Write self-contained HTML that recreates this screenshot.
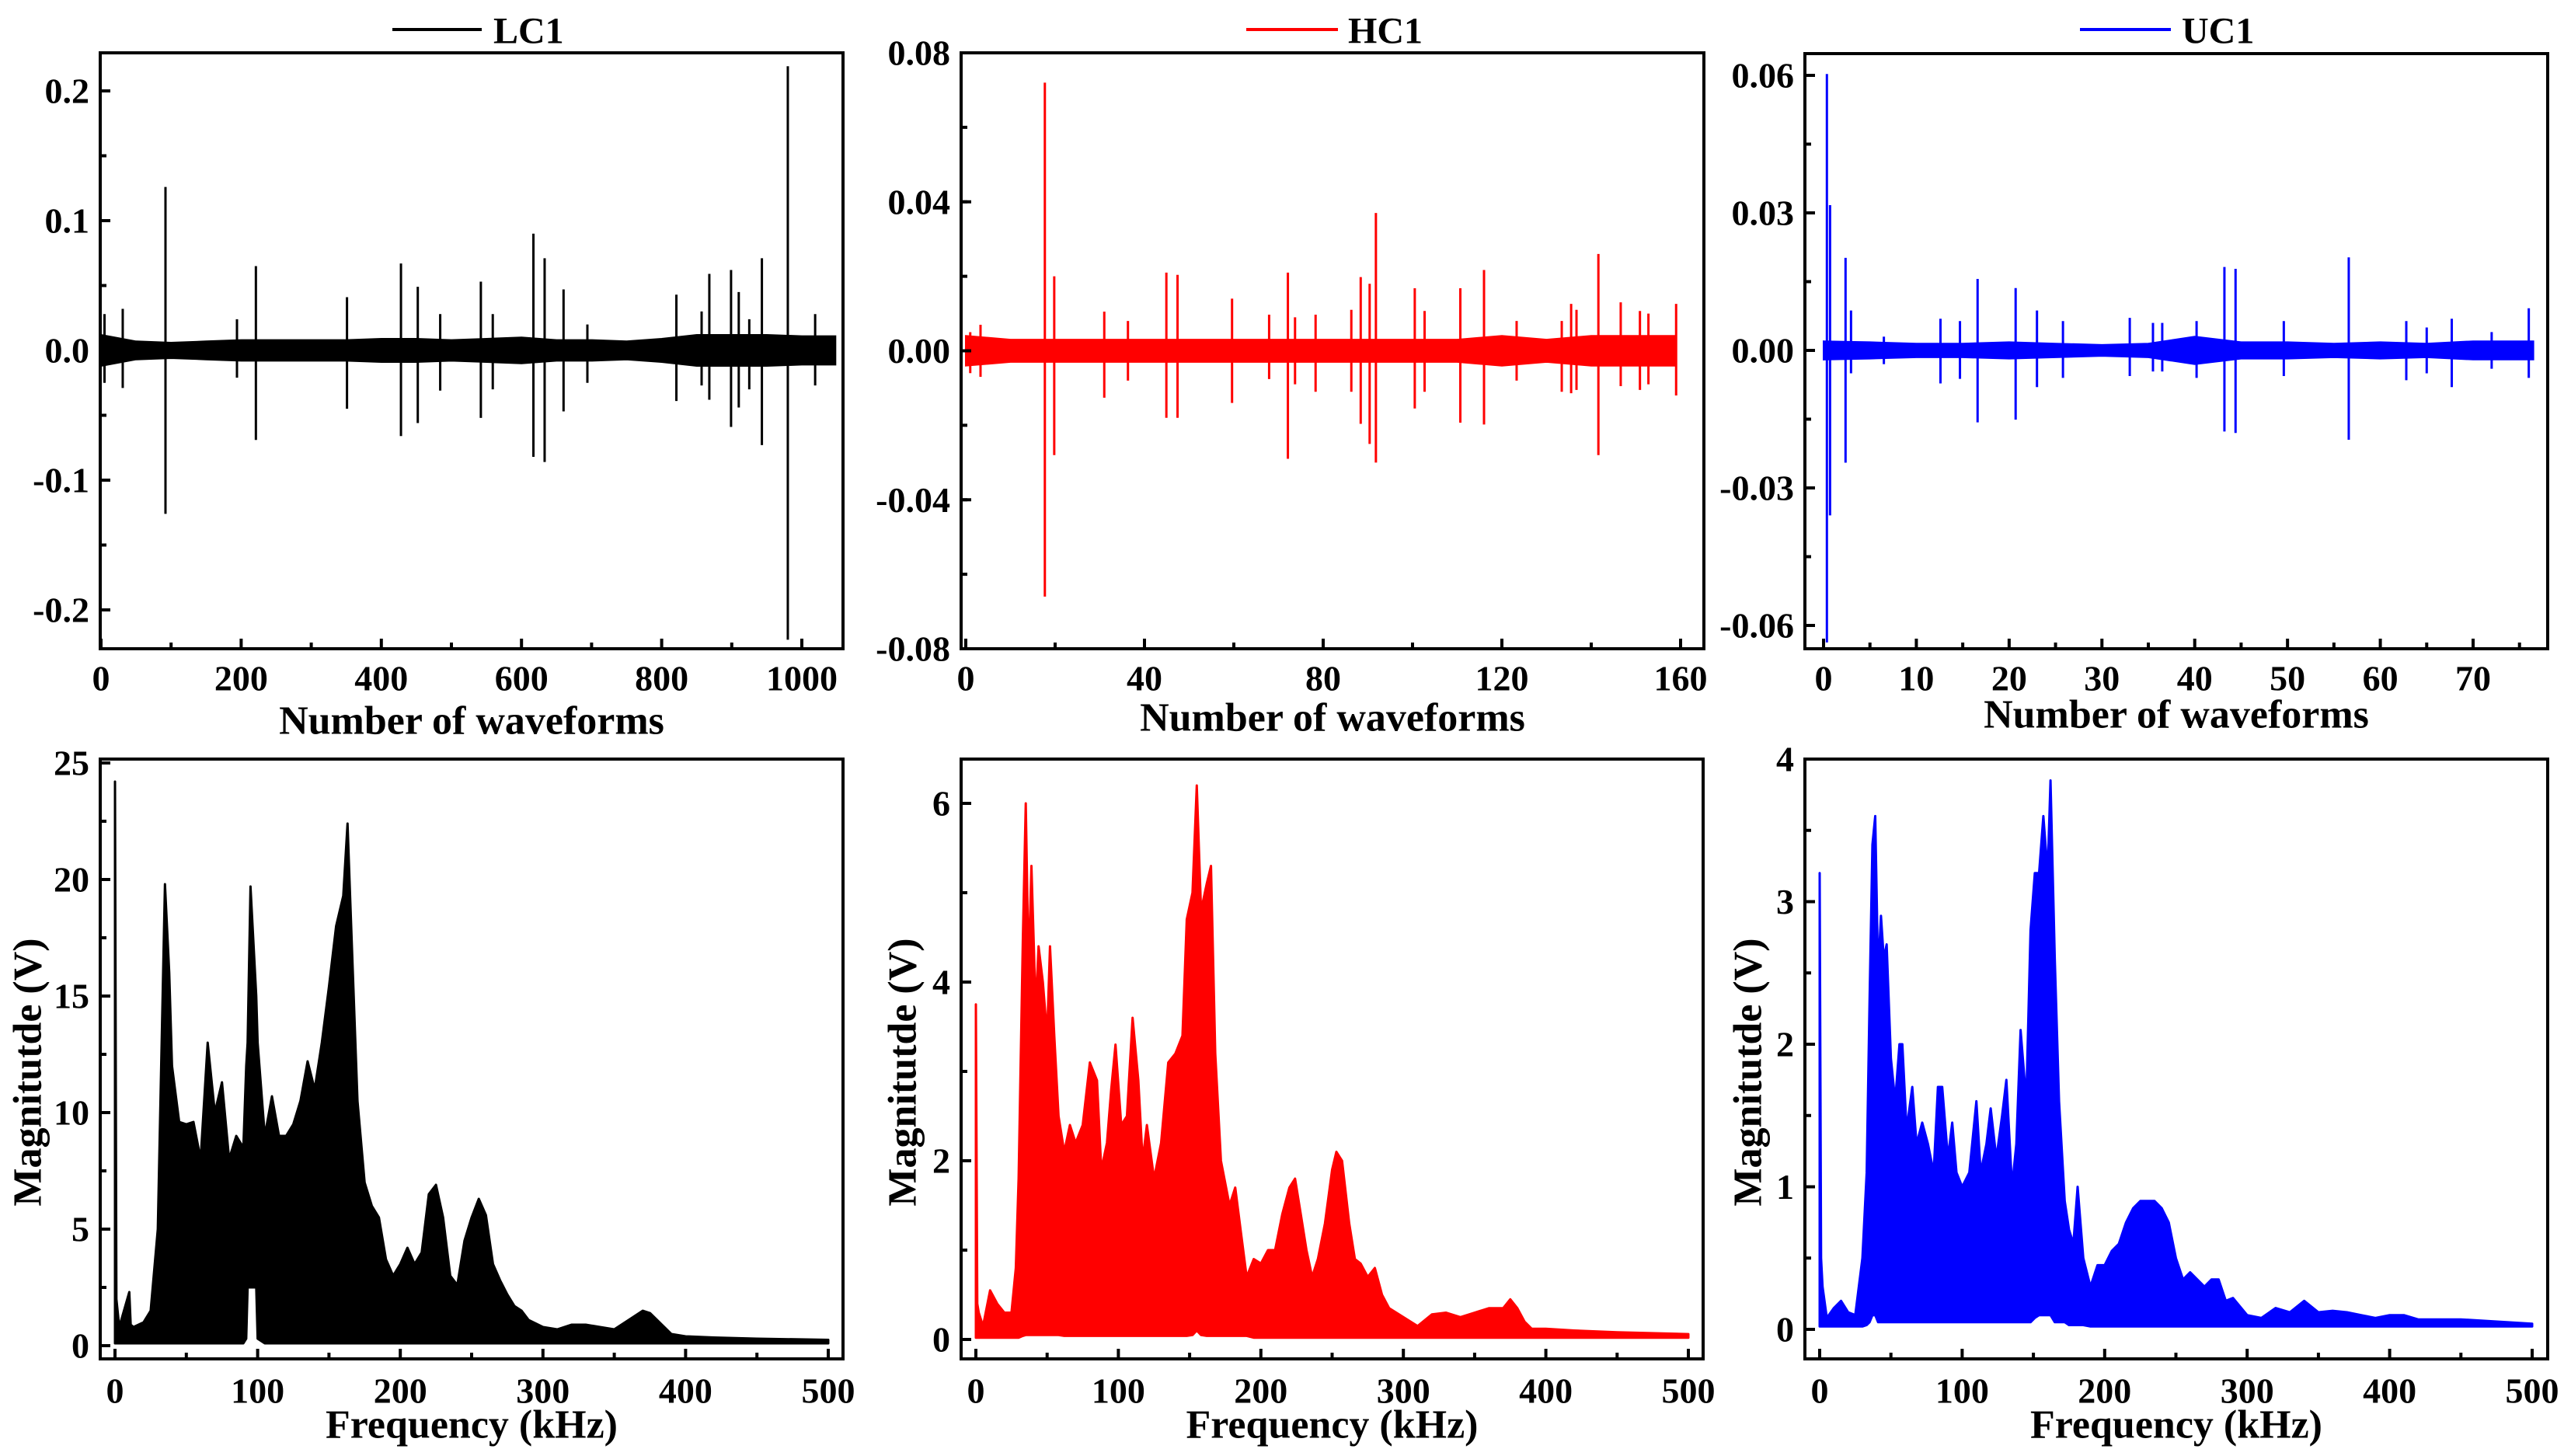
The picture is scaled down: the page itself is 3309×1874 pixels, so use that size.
<!DOCTYPE html>
<html><head><meta charset="utf-8">
<style>
html,body{margin:0;padding:0;background:#fff;}
svg{display:block;}
text{font-family:"Liberation Serif","Times New Roman",serif;font-weight:bold;fill:#000;}
</style></head>
<body>
<svg id="fig" width="3309" height="1874" viewBox="0 0 3309 1874" xmlns="http://www.w3.org/2000/svg"></svg>
<script>
// ---------- LC1 waveform ----------
const lcWaveEnvX = [0,50,100,150,200,250,300,350,400,450,500,550,600,650,700,750,800,850,900,950,1000,1048];
const lcWaveEnv = [0.012,0.007,0.006,0.007,0.008,0.008,0.008,0.008,0.009,0.009,0.008,0.009,0.01,0.008,0.008,0.007,0.009,0.012,0.012,0.012,0.011,0.011];
const lcSpikeX = [5,31,92,194,221,351,428,452,484,542,559,617,633,660,694,821,857,868,899,910,925,943,980,1019];
const lcSpikeHi = [0.028,0.032,0.126,0.024,0.065,0.041,0.067,0.049,0.028,0.053,0.028,0.090,0.071,0.047,0.020,0.043,0.030,0.059,0.062,0.045,0.024,0.071,0.219,0.028];
const lcSpikeLo = [-0.025,-0.029,-0.126,-0.021,-0.069,-0.045,-0.066,-0.056,-0.031,-0.052,-0.030,-0.082,-0.086,-0.047,-0.025,-0.039,-0.027,-0.038,-0.059,-0.044,-0.030,-0.073,-0.223,-0.027];
// ---------- HC1 waveform ----------
const hcWaveEnvX = [0,10,20,30,40,50,60,70,80,90,100,110,120,130,140,150,159];
const hcWaveEnv = [0.004,0.003,0.003,0.003,0.003,0.003,0.003,0.003,0.003,0.003,0.003,0.003,0.004,0.003,0.004,0.004,0.004];
const hcSpikeX = [1,3.3,17.7,19.8,31,36.3,44.9,47.4,59.6,67.9,72.1,73.7,78.3,86.3,88.4,90.4,91.8,100.5,102.7,110.7,116,123.3,133.4,135.5,136.7,141.6,146.6,150.9,152.8,159];
const hcSpikeHi = [0.005,0.007,0.072,0.020,0.0105,0.008,0.021,0.0204,0.014,0.0097,0.021,0.009,0.0097,0.011,0.0198,0.018,0.037,0.0168,0.0107,0.0168,0.0217,0.008,0.008,0.0126,0.011,0.026,0.013,0.0107,0.010,0.0126];
const hcSpikeLo = [-0.006,-0.007,-0.066,-0.028,-0.0126,-0.008,-0.018,-0.018,-0.014,-0.0076,-0.029,-0.009,-0.011,-0.011,-0.0196,-0.025,-0.030,-0.0155,-0.011,-0.0193,-0.0198,-0.008,-0.011,-0.0114,-0.0105,-0.028,-0.0095,-0.0105,-0.009,-0.012];
// ---------- UC1 waveform ----------
const ucWaveEnvX = [0,5,10,15,20,25,30,35,40,45,50,55,60,65,70,75,76.5];
const ucWaveEnv = [0.002,0.0018,0.0015,0.0015,0.0018,0.0015,0.0012,0.0015,0.003,0.0018,0.0018,0.0015,0.0018,0.0015,0.002,0.002,0.002];
const ucSpikeX = [0.36,0.7,2.37,2.96,6.5,12.6,14.7,16.6,20.7,23.0,25.8,33,35.5,36.5,40.2,43.2,44.4,49.6,56.6,62.8,65,67.7,72,76.0];
const ucSpikeHi = [0.0603,0.0317,0.0202,0.0087,0.0030,0.0069,0.0064,0.0156,0.0136,0.0087,0.0064,0.0071,0.0060,0.0060,0.0064,0.0182,0.0178,0.0064,0.0203,0.0064,0.0050,0.0069,0.0040,0.0092];
const ucSpikeLo = [-0.0637,-0.036,-0.0245,-0.005,-0.0030,-0.0072,-0.0062,-0.0157,-0.0151,-0.008,-0.006,-0.0056,-0.0046,-0.0046,-0.006,-0.0177,-0.018,-0.0056,-0.0195,-0.0065,-0.005,-0.0080,-0.004,-0.006];
// ---------- LC1 spectrum ----------
const lcFreq = [0,1,3,10,11,13,20,25,30,35,38,40,45,50,55,60,65,70,75,80,85,90,92,93,95,99,100,105,110,115,120,125,130,135,140,145,150,155,160,163,165,170,175,180,185,190,195,200,205,210,215,220,225,230,235,240,245,250,255,260,265,270,275,280,285,290,300,310,320,330,340,350,360,370,375,380,390,400,420,450,500];
const lcMagHi = [24.2,2,0.8,2.3,0.9,0.8,1,1.5,5,19.8,16,12,9.6,9.5,9.6,8,13,10,11.3,8,9,8.5,12,13,19.7,15,13,9,10.7,9,9,9.5,10.5,12.2,11,13,15.4,18,19.3,22.4,19,10.5,7,6,5.5,3.7,3,3.5,4.2,3.5,4,6.5,6.9,5.5,3,2.6,4.5,5.5,6.3,5.6,3.5,2.8,2.2,1.7,1.5,1.1,0.8,0.7,0.9,0.9,0.8,0.7,1.1,1.5,1.4,1.1,0.5,0.4,0.35,0.3,0.25];
const lcMagLo = [0.1,0.1,0.1,0.1,0.1,0.1,0.1,0.1,0.1,0.1,0.1,0.1,0.1,0.1,0.1,0.1,0.1,0.1,0.1,0.1,0.1,0.1,0.3,2.5,2.5,2.5,0.3,0.1,0.1,0.1,0.1,0.1,0.1,0.1,0.1,0.1,0.1,0.1,0.1,0.1,0.1,0.1,0.1,0.1,0.1,0.1,0.1,0.1,0.1,0.1,0.1,0.1,0.1,0.1,0.1,0.1,0.1,0.1,0.1,0.1,0.1,0.1,0.1,0.1,0.1,0.1,0.1,0.1,0.1,0.1,0.1,0.1,0.1,0.1,0.1,0.1,0.1,0.1,0.1,0.1,0.1];
// ---------- HC1 spectrum ----------
const hcFreq = [0,1,2,5,10,15,20,25,28,30,33,35,37,39,42,44,47,50,52,55,58,62,66,70,75,80,85,88,92,95,98,102,106,110,114,117,120,125,130,135,140,145,148,152,155,158,162,165,168,172,178,182,186,190,195,200,205,210,215,220,224,228,232,236,240,245,250,253,257,262,266,270,275,280,285,290,300,310,320,330,340,350,360,370,375,380,385,390,400,420,450,500];
const hcMagHi = [3.75,0.4,0.3,0.15,0.55,0.4,0.3,0.3,0.8,1.8,4.5,6.0,4.1,5.3,3.7,4.4,4.0,3.4,4.4,3.4,2.5,2.1,2.4,2.2,2.4,3.1,2.9,1.9,2.2,2.8,3.3,2.4,2.5,3.6,2.9,2.0,2.4,1.8,2.2,3.1,3.2,3.4,4.7,5.0,6.2,4.8,5.1,5.3,3.2,2.0,1.5,1.7,1.2,0.7,0.9,0.85,1.0,1.0,1.4,1.7,1.8,1.4,1.0,0.7,0.9,1.3,1.9,2.1,2.0,1.3,0.9,0.85,0.7,0.8,0.5,0.35,0.25,0.15,0.28,0.3,0.25,0.3,0.35,0.35,0.45,0.35,0.2,0.12,0.12,0.1,0.08,0.06];
const hcMagLo = [0.02,0.02,0.02,0.02,0.02,0.02,0.02,0.02,0.02,0.02,0.04,0.05,0.05,0.05,0.05,0.05,0.05,0.05,0.05,0.05,0.05,0.04,0.04,0.04,0.04,0.04,0.04,0.04,0.04,0.04,0.04,0.04,0.04,0.04,0.04,0.04,0.04,0.04,0.04,0.04,0.04,0.04,0.04,0.05,0.1,0.05,0.04,0.04,0.04,0.04,0.04,0.04,0.04,0.04,0.02,0.02,0.02,0.02,0.02,0.02,0.02,0.02,0.02,0.02,0.02,0.02,0.02,0.02,0.02,0.02,0.02,0.02,0.02,0.02,0.02,0.02,0.02,0.02,0.02,0.02,0.02,0.02,0.02,0.02,0.02,0.02,0.02,0.02,0.02,0.02,0.02,0.02];
// ---------- UC1 spectrum ----------
const ucFreq = [0,1,2,5,10,15,20,25,30,33,35,37,39,41,43,45,47,50,53,56,58,61,65,68,72,76,80,83,86,90,93,96,100,105,110,113,117,120,124,128,131,135,138,141,145,148,151,154,157,160,162,165,168,172,175,178,181,185,190,195,200,205,210,215,220,225,230,235,240,245,250,255,260,270,275,280,285,290,300,310,320,330,340,350,360,370,380,390,400,410,420,450,500];
const ucMagHi = [3.2,0.5,0.3,0.08,0.15,0.2,0.12,0.1,0.5,1.1,2.3,3.4,3.6,2.5,2.9,2.6,2.7,1.9,1.6,2.0,2.0,1.4,1.7,1.3,1.45,1.3,1.1,1.7,1.7,1.2,1.45,1.1,1.0,1.1,1.6,1.1,1.3,1.55,1.2,1.5,1.75,1.0,1.3,2.1,1.6,2.8,3.2,3.2,3.6,3.2,3.85,2.6,1.6,0.9,0.7,0.6,1.0,0.5,0.3,0.45,0.45,0.55,0.6,0.75,0.85,0.9,0.9,0.9,0.85,0.75,0.5,0.35,0.4,0.3,0.35,0.35,0.2,0.22,0.1,0.08,0.15,0.12,0.2,0.12,0.13,0.12,0.1,0.08,0.1,0.1,0.07,0.07,0.04];
const ucMagLo = [0.02,0.02,0.02,0.02,0.02,0.02,0.02,0.02,0.02,0.03,0.05,0.1,0.1,0.05,0.05,0.05,0.05,0.05,0.05,0.05,0.05,0.05,0.05,0.05,0.05,0.05,0.05,0.05,0.05,0.05,0.05,0.05,0.05,0.05,0.05,0.05,0.05,0.05,0.05,0.05,0.05,0.05,0.05,0.05,0.05,0.05,0.08,0.1,0.1,0.1,0.1,0.05,0.05,0.05,0.03,0.03,0.03,0.03,0.02,0.02,0.02,0.02,0.02,0.02,0.02,0.02,0.02,0.02,0.02,0.02,0.02,0.02,0.02,0.02,0.02,0.02,0.02,0.02,0.02,0.02,0.02,0.02,0.02,0.02,0.02,0.02,0.02,0.02,0.02,0.02,0.02,0.02,0.02];
// tick labels
const lcTopXTicks = [0,200,400,600,800,1000];
const lcTopYTicks = [0.2,0.1,0.0,-0.1,-0.2];
const lcTopYLabels = ["0.2","0.1","0.0","-0.1","-0.2"];
const hcTopXTicks = [0,40,80,120,160];
const hcTopYTicks = [0.08,0.04,0,-0.04,-0.08];
const hcTopYLabels = ["0.08","0.04","0.00","-0.04","-0.08"];
const ucTopXTicks = [0,10,20,30,40,50,60,70];
const ucTopYTicks = [0.06,0.03,0,-0.03,-0.06];
const ucTopYLabels = ["0.06","0.03","0.00","-0.03","-0.06"];
const specXTicks = [0,100,200,300,400,500];
const lcSpecYTicks = [0,5,10,15,20,25];
const hcSpecYTicks = [0,2,4,6];
const ucSpecYTicks = [0,1,2,3,4];

const NS = "http://www.w3.org/2000/svg";
const svg = document.getElementById('fig');
function mk(tag, attrs, parent){
  const e = document.createElementNS(NS, tag);
  for (const k in attrs) e.setAttribute(k, attrs[k]);
  (parent||svg).appendChild(e);
  return e;
}
function lin(d0,d1,r0,r1){ return v => r0 + (v-d0)*(r1-r0)/(d1-d0); }

function panel(cfg){
  const g = mk('g', {});
  
  
  const sx = lin(cfg.xd[0], cfg.xd[1], cfg.xr[0], cfg.xr[1]);
  const sy = lin(cfg.yd[0], cfg.yd[1], cfg.yr[0], cfg.yr[1]);
  const L = cfg.box[0], R = cfg.box[1], T = cfg.box[2], B = cfg.box[3];
  const clipId = 'clip-' + cfg.name;
  const cp = mk('clipPath', {id: clipId}, g);
  mk('rect', {x:L, y:T, width:R-L, height:B-T}, cp);
  const plot = mk('g', {'clip-path':'url(#'+clipId+')'}, g);
  
  
  if (cfg.type === 'wave'){
    let up = [], dn = [];
    for (let i=0;i<cfg.envX.length;i++){
      up.push(sx(cfg.envX[i]).toFixed(1)+','+sy(cfg.env[i]).toFixed(1));
      dn.unshift(sx(cfg.envX[i]).toFixed(1)+','+sy(-cfg.env[i]).toFixed(1));
    }
    const band = mk('polygon', {points: up.concat(dn).join(' '), fill: cfg.color, stroke: cfg.color, 'stroke-width': 2}, plot);
    
    
    for (let i=0;i<cfg.spX.length;i++){
      const ln = mk('line', {x1: sx(cfg.spX[i]), x2: sx(cfg.spX[i]), y1: sy(cfg.spHi[i]), y2: sy(cfg.spLo[i]), stroke: cfg.color, 'stroke-width': 3}, plot);
      
      
    }
  } else {
    let up = [], dn = [];
    for (let i=0;i<cfg.fx.length;i++){
      up.push(sx(cfg.fx[i]).toFixed(1)+','+sy(cfg.hi[i]).toFixed(1));
      dn.unshift(sx(cfg.fx[i]).toFixed(1)+','+sy(cfg.lo[i]).toFixed(1));
    }
    const area = mk('polygon', {points: up.concat(dn).join(' '), fill: cfg.color, stroke: cfg.color, 'stroke-width': 3, 'stroke-linejoin':'round'}, plot);
    
    
  }
  // frame
  const fr = mk('rect', {x:L, y:T, width:R-L, height:B-T, fill:'none', stroke:'#000', 'stroke-width':4}, g);
  
  
  // x ticks
  const xa = mk('g', {}, g);
  
  
  for (let i=0;i<cfg.xt.length;i++){
    const x = sx(cfg.xt[i]);
    mk('line', {x1:x, x2:x, y1:B, y2:B-13, stroke:'#000', 'stroke-width':4}, xa);
    const t = mk('text', {x:x, y:cfg.xlabY, 'text-anchor':'middle', 'font-size':46, 'dominant-baseline':'central'}, xa);
    t.textContent = String(cfg.xt[i]);
    
    
    if (i < cfg.xt.length-1 || cfg.xMinorAfter){
      const mx = sx(cfg.xt[i] + cfg.xMinor);
      if (mx < R-4) mk('line', {x1:mx, x2:mx, y1:B, y2:B-8, stroke:'#000', 'stroke-width':4}, xa);
    }
  }
  // y ticks
  const ya = mk('g', {}, g);
  
  
  for (let i=0;i<cfg.yt.length;i++){
    const y = sy(cfg.yt[i]);
    mk('line', {x1:L, x2:L+13, y1:y, y2:y, stroke:'#000', 'stroke-width':4}, ya);
    const t = mk('text', {x:L-14, y:y, 'text-anchor':'end', 'font-size':46, 'dominant-baseline':'central'}, ya);
    t.textContent = cfg.yl ? cfg.yl[i] : String(cfg.yt[i]);
    
    
  }
  for (let v = cfg.yMinorStart; v < cfg.yd[1] + 1e-9 || v <= Math.max(cfg.yd[0],cfg.yd[1]); v += cfg.yMinor){
    if (v > Math.max(cfg.yd[0],cfg.yd[1])) break;
    const y = sy(v);
    if (y > T+4 && y < B-4) mk('line', {x1:L, x2:L+8, y1:y, y2:y, stroke:'#000', 'stroke-width':4}, ya);
  }
  // titles
  const xt = mk('text', {x:(L+R)/2, y:cfg.xTitleY, 'text-anchor':'middle', 'font-size':52, 'dominant-baseline':'central'}, g);
  xt.textContent = cfg.xTitle;
  
  
  if (cfg.yTitle){
    const yt = mk('text', {x:0, y:0, 'text-anchor':'middle', 'font-size':52, 'dominant-baseline':'central', transform:'translate('+cfg.yTitleX+','+cfg.yTitleY+') rotate(-90)'}, g);
    yt.textContent = cfg.yTitle;
    
    
  }
  if (cfg.legend){
    const lg = mk('g', {}, g);
    
    
    mk('line', {x1:cfg.legend[0], x2:cfg.legend[1], y1:38, y2:38, stroke:cfg.color, 'stroke-width':4}, lg);
    const t = mk('text', {x:cfg.legend[2], y:40, 'font-size':48, 'dominant-baseline':'central'}, lg);
    t.textContent = cfg.legendText;
  }
}

// Top row
panel({name:'lc1-waveform', type:'wave', color:'#000', box:[129,1085,68,835],
  xd:[0,1000], xr:[130,1032], yd:[0.2,-0.2], yr:[117,785],
  envX:lcWaveEnvX, env:lcWaveEnv, spX:lcSpikeX, spHi:lcSpikeHi, spLo:lcSpikeLo,
  xt:lcTopXTicks, xMinor:100, xMinorAfter:false, yt:lcTopYTicks, yl:lcTopYLabels, yMinor:0.05, yMinorStart:-0.25,
  xlabY:873, xTitle:'Number of waveforms', xTitleY:928, legend:[505,620,635], legendText:'LC1'});
panel({name:'hc1-waveform', type:'wave', color:'#ff0000', box:[1237,2193,68,835],
  xd:[0,160], xr:[1243,2163], yd:[0.08,-0.08], yr:[68,835],
  envX:hcWaveEnvX, env:hcWaveEnv, spX:hcSpikeX, spHi:hcSpikeHi, spLo:hcSpikeLo,
  xt:hcTopXTicks, xMinor:20, xMinorAfter:false, yt:hcTopYTicks, yl:hcTopYLabels, yMinor:0.02, yMinorStart:-0.08,
  xlabY:873, xTitle:'Number of waveforms', xTitleY:924, legend:[1604,1722,1735], legendText:'HC1'});
panel({name:'uc1-waveform', type:'wave', color:'#0000ff', box:[2323,3279,69,835],
  xd:[0,70], xr:[2347,3183], yd:[0.06,-0.06], yr:[97,805],
  envX:ucWaveEnvX, env:ucWaveEnv, spX:ucSpikeX, spHi:ucSpikeHi, spLo:ucSpikeLo,
  xt:ucTopXTicks, xMinor:5, xMinorAfter:true, yt:ucTopYTicks, yl:ucTopYLabels, yMinor:0.015, yMinorStart:-0.06,
  xlabY:873, xTitle:'Number of waveforms', xTitleY:920, legend:[2677,2794,2808], legendText:'UC1'});
// Bottom row
panel({name:'lc1-spectrum', type:'spec', color:'#000', box:[129,1085,977,1749],
  xd:[0,500], xr:[148,1066], yd:[0,25], yr:[1732,982],
  fx:lcFreq, hi:lcMagHi, lo:lcMagLo,
  xt:specXTicks, xMinor:50, xMinorAfter:false, yt:lcSpecYTicks, yMinor:2.5, yMinorStart:0,
  xlabY:1790, xTitle:'Frequency (kHz)', xTitleY:1834, yTitle:'Magnitutde (V)', yTitleX:36, yTitleY:1380});
panel({name:'hc1-spectrum', type:'spec', color:'#ff0000', box:[1237,2192,977,1749],
  xd:[0,500], xr:[1256,2173], yd:[0,6], yr:[1724,1034],
  fx:hcFreq, hi:hcMagHi, lo:hcMagLo,
  xt:specXTicks, xMinor:50, xMinorAfter:false, yt:hcSpecYTicks, yMinor:1, yMinorStart:0,
  xlabY:1790, xTitle:'Frequency (kHz)', xTitleY:1834, yTitle:'Magnitutde (V)', yTitleX:1162, yTitleY:1380});
panel({name:'uc1-spectrum', type:'spec', color:'#0000ff', box:[2323,3279,977,1749],
  xd:[0,500], xr:[2342,3259], yd:[0,4], yr:[1711,977],
  fx:ucFreq, hi:ucMagHi, lo:ucMagLo,
  xt:specXTicks, xMinor:50, xMinorAfter:false, yt:ucSpecYTicks, yMinor:0.5, yMinorStart:0,
  xlabY:1790, xTitle:'Frequency (kHz)', xTitleY:1834, yTitle:'Magnitutde (V)', yTitleX:2250, yTitleY:1380});
</script>
</body></html>
